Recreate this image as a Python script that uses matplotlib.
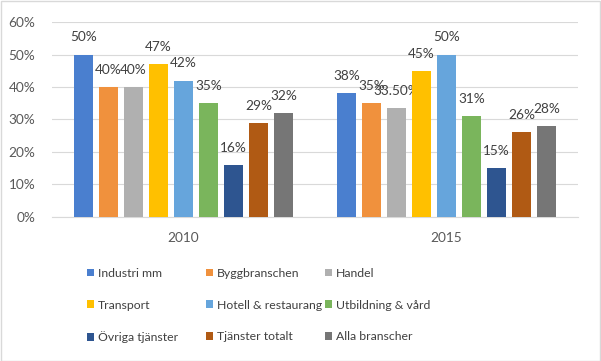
import numpy as np
import matplotlib
matplotlib.use('Agg')
import matplotlib.pyplot as plt
from matplotlib.patches import Patch, Rectangle

plt.rcParams['font.family'] = ['Lato', 'DejaVu Sans']

years = ['2010', '2015']
branscher = ['Industri mm', 'Byggbranschen', 'Handel', 'Transport',
             'Hotell & restaurang', 'Utbildning & vård', 'Övriga tjänster',
             'Tjänster totalt', 'Alla branscher']
andel = [
    [0.50, 0.38],
    [0.40, 0.35],
    [0.40, 0.335],
    [0.47, 0.45],
    [0.42, 0.50],
    [0.35, 0.31],
    [0.16, 0.15],
    [0.29, 0.26],
    [0.32, 0.28],
]
colors = ['#4A7FCF', '#F0913D', '#B0B0B0', '#FFC000', '#66A5DC',
          '#7AB55C', '#2E5590', '#B05A14', '#767676']

fig = plt.figure(figsize=(6.01, 3.61), dpi=100)
ax = fig.add_axes([0.0865, 0.399, 0.8755, 0.54])

x = np.arange(len(years))
step = 0.095
width = 0.072
n = len(branscher)

for i, (name, vals) in enumerate(zip(branscher, andel)):
    pos = x + (i - (n - 1) / 2) * step
    bars = ax.bar(pos, vals, width, color=colors[i], label=name, zorder=3)
    labels = ['%d%%' % round(v * 100) if abs(v * 100 - round(v * 100)) < 1e-9
              else '%.2f%%' % (v * 100) for v in vals]
    ax.bar_label(bars, labels=labels, padding=8, fontsize=9.8, color='#404040')

ax.set_xlim(-0.5, 1.5)
ax.set_ylim(0, 0.6)
ax.set_yticks(np.arange(0, 0.61, 0.1))
ax.set_yticklabels(['%d%%' % round(t * 100) for t in np.arange(0, 0.61, 0.1)])
ax.set_xticks(x)
ax.set_xticklabels(years)
ax.tick_params(axis='both', length=0, labelsize=9.8, colors='#595959')
ax.tick_params(axis='x', pad=11)
ax.tick_params(axis='y', pad=12)
ax.grid(axis='y', color='#D9D9D9', linewidth=0.8, zorder=0)
for s in ['top', 'right', 'left']:
    ax.spines[s].set_visible(False)
ax.spines['bottom'].set_color('#D9D9D9')

# legend: three columns, row-major order
handles = [Patch(facecolor=c) for c in colors]
col_x = [0.145, 0.343, 0.54]
for c in range(3):
    leg = fig.legend(handles[c::3], branscher[c::3], loc='upper left',
                     bbox_to_anchor=(col_x[c], 0.258), frameon=False,
                     fontsize=8.8, labelcolor='#404040', handlelength=0.6,
                     handleheight=0.6, handletextpad=0.3, labelspacing=1.7,
                     borderpad=0, borderaxespad=0)

fig.patches.append(Rectangle((0.001, 0.001), 0.997, 0.996, transform=fig.transFigure,
                             fill=False, edgecolor='#D9D9D9', linewidth=1))

fig.savefig('out.png', dpi=100)
